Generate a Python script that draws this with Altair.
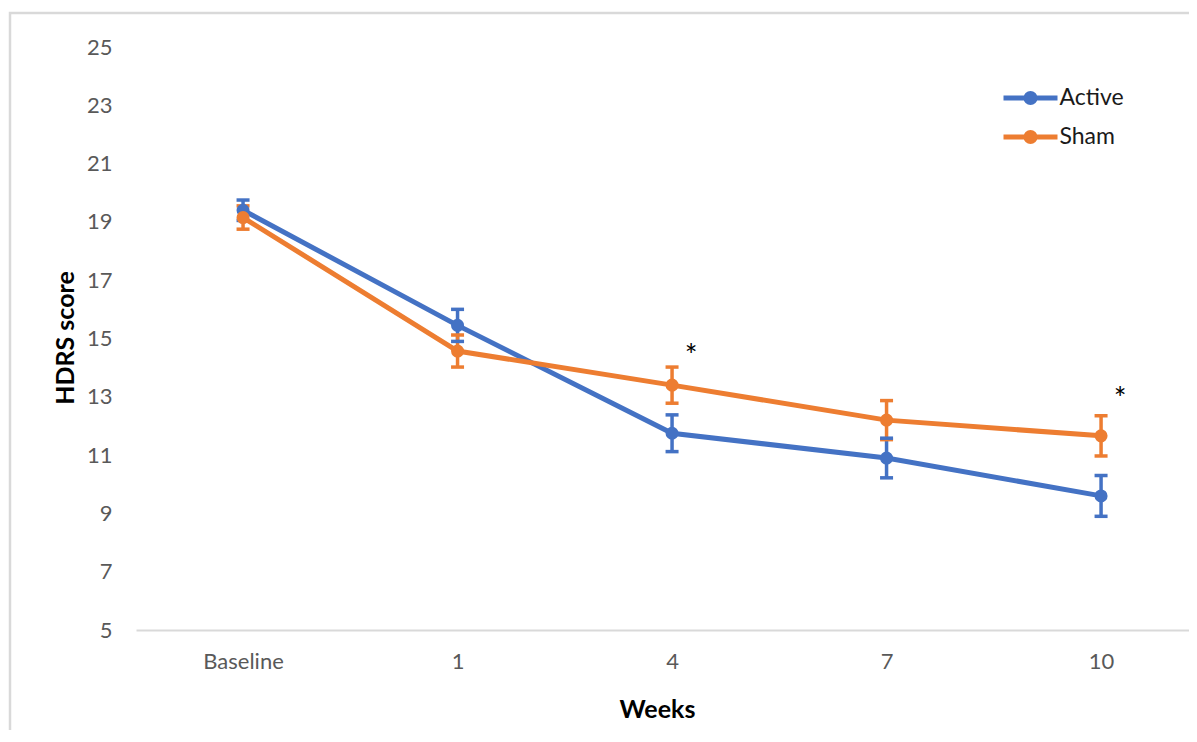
import altair as alt
import pandas as pd

# ---- data ----
weeks = ["Baseline", "1", "4", "7", "10"]
series = ["Active", "Sham"]
active_mean = [19.40, 15.45, 11.75, 10.90, 9.60]
active_se = [0.35, 0.55, 0.63, 0.68, 0.70]
sham_mean = [19.15, 14.57, 13.40, 12.20, 11.66]
sham_se = [0.40, 0.55, 0.62, 0.67, 0.69]
y_ticks = [5, 7, 9, 11, 13, 15, 17, 19, 21, 23, 25]
sig_weeks = ["4", "10"]
sig_text = ["*", "*"]
sig_y = [14.64, 13.15]
colors = ["#4472C4", "#ED7D31"]

rows = []
for name, means, ses in [("Active", active_mean, active_se), ("Sham", sham_mean, sham_se)]:
    for w, m, s in zip(weeks, means, ses):
        rows.append({"week": w, "group": name, "mean": m, "se": s})
df = pd.DataFrame(rows)
sig_df = pd.DataFrame({"week": sig_weeks, "mark": sig_text, "y": sig_y})

FONT = "Lato"
LEGEND_PATH = ("M-2,0L2,0"
               "M0.333,0A0.333,0.333,0,1,1,-0.333,0A0.333,0.333,0,1,1,0.333,0"
               "M0.074,0A0.074,0.074,0,1,1,-0.074,0A0.074,0.074,0,1,1,0.074,0")

x_scale = alt.Scale(type="point", domain=weeks, padding=0.4545, align=0.549)
y_scale = alt.Scale(domain=[5, 25], nice=False, zero=False)

x_enc = alt.X(
    "week:N", sort=weeks, scale=x_scale,
    axis=alt.Axis(
        title="Weeks", labelAngle=0, ticks=False, tickSize=0, grid=False,
        domainColor="#d9d9d9", domainWidth=2, labelPadding=21,
        labelFontSize=22, labelFont=FONT, labelColor="#595959",
        titleFontSize=25, titleFont=FONT, titleFontWeight="bold", titleColor="#000000",
        titleX=521, titleY=87, titleBaseline="alphabetic",
    ),
)
y_axis = alt.Axis(
    values=y_ticks, title="HDRS score", domain=False, ticks=False, tickSize=0, grid=False,
    labelPadding=24, labelFontSize=22, labelFont=FONT, labelColor="#595959",
    titleFontSize=25, titleFont=FONT, titleFontWeight="bold", titleColor="#000000",
    titleX=-63, titleY=290.5, titleBaseline="alphabetic",
)
color_enc = alt.Color(
    "group:N", scale=alt.Scale(domain=series, range=colors),
    legend=alt.Legend(
        title=None, orient="none", legendX=878.5, legendY=35, padding=0,
        symbolType=LEGEND_PATH, symbolSize=729, symbolStrokeWidth=5,
        symbolFillColor="transparent",
        labelFontSize=23, labelFont=FONT, labelColor="#1a1a1a",
        labelOffset=13, rowPadding=8,
    ),
)

base = alt.Chart(df).transform_calculate(
    lo="datum.mean - datum.se", hi="datum.mean + datum.se"
)

err = base.mark_rule(strokeWidth=3.5).encode(
    x=x_enc, y=alt.Y("lo:Q", scale=y_scale, axis=y_axis), y2="hi:Q", color=color_enc
)
cap_lo = base.mark_tick(size=13, thickness=3.5, opacity=1).encode(
    x=x_enc, y=alt.Y("lo:Q", scale=y_scale), color=color_enc
)
cap_hi = base.mark_tick(size=13, thickness=3.5, opacity=1).encode(
    x=x_enc, y=alt.Y("hi:Q", scale=y_scale), color=color_enc
)
line = base.mark_line(strokeWidth=5).encode(
    x=x_enc, y=alt.Y("mean:Q", scale=y_scale), color=color_enc
)
pts = base.mark_point(filled=True, size=170, opacity=1).encode(
    x=x_enc, y=alt.Y("mean:Q", scale=y_scale), color=color_enc
)
stars = alt.Chart(sig_df).mark_text(
    font=FONT, fontSize=30, color="#000000", dx=19, dy=8, baseline="middle"
).encode(
    x=alt.X("week:N", sort=weeks, scale=x_scale),
    y=alt.Y("y:Q", scale=y_scale),
    text="mark:N",
)
frame = alt.Chart(alt.Data(values=[{}])).mark_rect(
    fill="transparent", stroke="#d9d9d9", strokeWidth=2.5
).encode(
    x=alt.value(-126), x2=alt.value(1300), y=alt.value(-34), y2=alt.value(900)
)

chart = alt.layer(frame, err, cap_lo, cap_hi, line, pts, stars).properties(
    width=1053, height=583,
    autosize=alt.AutoSizeParams(type="none"),
    padding={"left": 128, "top": 39, "right": 0, "bottom": 100},
    background="white",
).configure(font=FONT).configure_view(stroke="transparent", strokeWidth=0)

chart.save("out.html", embed_options={"renderer": "svg", "actions": False})
